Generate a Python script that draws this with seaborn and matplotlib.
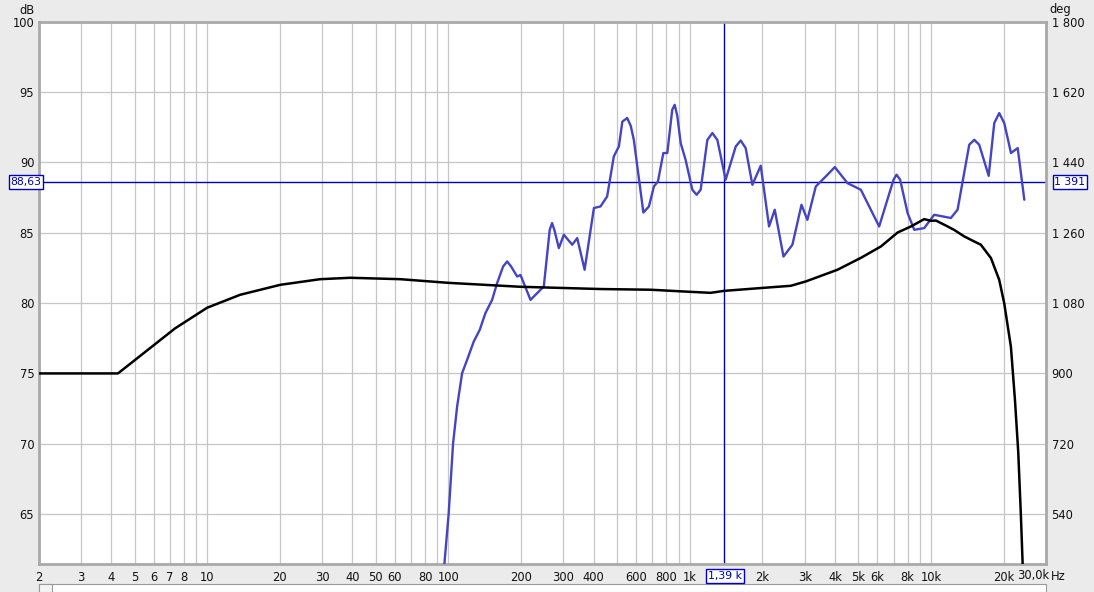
import numpy as np
import pandas as pd
import matplotlib
matplotlib.use("Agg")
import matplotlib.pyplot as plt
from matplotlib.patches import Rectangle
from matplotlib.ticker import FixedLocator, FixedFormatter
import seaborn as sns

# ---------------- data ----------------
black_freq = [2, 4.27, 5.8, 7.36, 10, 13.7, 20.1, 29.4, 39.2, 63.2, 100, 199, 427, 689,
              1009, 1222, 1390, 1972, 2626, 3030, 4100, 5130, 6210, 7280, 8270, 9380,
              10000, 10490, 11730, 12500, 13750, 15130, 16110, 17740, 19190, 20130,
              21460, 22310, 23020, 23620, 24000, 24300]
black_db = [75.0, 75.0, 76.8, 78.2, 79.67, 80.59, 81.3, 81.7, 81.8, 81.7, 81.44, 81.16,
            81.0, 80.95, 80.8, 80.73, 80.87, 81.07, 81.23, 81.54, 82.37, 83.22, 84.03,
            85.02, 85.45, 85.97, 85.85, 85.87, 85.45, 85.2, 84.74, 84.38, 84.15, 83.2,
            81.66, 80.0, 76.9, 73.1, 69.4, 64.8, 61.5, 58.0]

blue_freq = [95.0, 96.2, 100.3, 104.6, 108.7, 114.0, 119.6, 127.4, 134.9, 142.4, 151.8,
             159.2, 168.6, 175.2, 182, 192.8, 199, 219, 241, 248.6, 263, 269, 275, 287,
             301, 326, 342, 367, 401, 427, 455, 485, 509, 526, 551, 570, 587, 643, 678,
             711, 739, 778, 808, 847, 867, 889, 918, 962, 1026, 1069, 1111, 1184, 1242,
             1303, 1410, 1553, 1628, 1707, 1820, 1971, 2134, 2253, 2449, 2667, 2908,
             3077, 3333, 3665, 3997, 4510, 5125, 6104, 7000, 7207, 7457, 8007, 8531,
             9380, 10320, 12100, 12900, 14420, 15130, 15860, 17360, 18310, 19200,
             20140, 21480, 22900, 24390]
blue_db = [58.0, 61.4, 65.06, 70.04, 72.65, 75.02, 75.97, 77.27, 78.1, 79.29, 80.23,
           81.42, 82.6, 82.96, 82.6, 81.89, 82.0, 80.23, 80.95, 81.18, 85.2, 85.69, 85.2,
           83.91, 84.86, 84.15, 84.62, 82.37, 86.76, 86.87, 87.58, 90.43, 91.14, 92.9,
           93.16, 92.6, 91.61, 86.44, 86.87, 88.29, 88.65, 90.67, 90.67, 93.75, 94.1,
           93.3, 91.38, 90.19, 88.06, 87.7, 88.06, 91.6, 92.09, 91.6, 88.77, 91.14,
           91.56, 91.02, 88.41, 89.77, 85.45, 86.64, 83.31, 84.15, 86.99, 85.92, 88.29,
           89.0, 89.67, 88.53, 88.06, 85.45, 88.77, 89.13, 88.77, 86.4, 85.21, 85.33,
           86.28, 86.05, 86.64, 91.26, 91.61, 91.26, 89.05, 92.8, 93.51, 92.8, 90.67,
           91.02, 87.35]

db_ticks = [65, 70, 75, 80, 85, 90, 95, 100]
deg_ticks = [540, 720, 900, 1080, 1260, 1440, 1620, 1800]
deg_labels = ["540", "720", "900", "1 080", "1 260", "1 440", "1 620", "1 800"]
x_labels = {2: "2", 3: "3", 4: "4", 5: "5", 6: "6", 7: "7", 8: "8", 10: "10",
            20: "20", 30: "30", 40: "40", 50: "50", 60: "60", 80: "80", 100: "100",
            200: "200", 300: "300", 400: "400", 600: "600", 800: "800", 1000: "1k",
            2000: "2k", 3000: "3k", 4000: "4k", 5000: "5k", 6000: "6k", 8000: "8k",
            10000: "10k", 20000: "20k"}
cursor_freq = 1391
cursor_db = 88.63

# ---------------- figure ----------------
sns.set_style("white")
plt.rcParams["font.family"] = ["DejaVu Sans"]

W, H = 1094, 592
fig = plt.figure(figsize=(W / 100, H / 100), dpi=100, facecolor="#ebebeb")
L, R, T, B = 38.5, 1046, 21.8, 564
ax = fig.add_axes([L / W, 1 - B / H, (R - L) / W, (B - T) / H])
ax.set_facecolor("white")
ymin, ymax = 61.45, 100
ax.set_xscale("log")
ax.set_xlim(2, 30000)
ax.set_ylim(ymin, ymax)

grid_x = [m * d for d in [1, 10, 100, 1000, 10000] for m in range(1, 10) if 2 <= m * d <= 30000]
ax.xaxis.set_major_locator(FixedLocator(grid_x))
ax.xaxis.set_major_formatter(FixedFormatter([x_labels.get(g, "") for g in grid_x]))
ax.xaxis.set_minor_locator(FixedLocator([]))
ax.set_yticks(db_ticks)
ax.set_yticklabels([str(t) for t in db_ticks])
ax.grid(True, which="major", color="#c6c6c6", lw=0.9)
ax.tick_params(axis="both", length=0, labelsize=8.3, colors="#111111")
ax.tick_params(axis="x", pad=5)
ax.tick_params(axis="y", pad=3)
for s in ax.spines.values():
    s.set_color("#a9a9a9")
    s.set_linewidth(2)

# cursor
ax.axvline(cursor_freq, color="#0000b0", lw=1, zorder=2)
ax.axhline(cursor_db, color="#0000b0", lw=1, zorder=2)

blue_df = pd.DataFrame({"f": blue_freq, "db": blue_db})
black_df = pd.DataFrame({"f": black_freq, "db": black_db})
sns.lineplot(data=blue_df, x="f", y="db", ax=ax, color="#4444c4", lw=1.7,
             estimator=None, sort=False, zorder=3)
sns.lineplot(data=black_df, x="f", y="db", ax=ax, color="black", lw=1.8,
             estimator=None, sort=False, zorder=4)
ax.set_xlabel("")
ax.set_ylabel("")
ax.set_xlim(2, 30000)
ax.set_ylim(ymin, ymax)

ax2 = ax.twinx()
ax2.set_ylim(ymin * 36 - 1800, 1800)
ax2.set_yticks(deg_ticks)
ax2.set_yticklabels(deg_labels)
ax2.tick_params(axis="y", length=0, labelsize=8.3, pad=4, colors="#111111")
for s in ax2.spines.values():
    s.set_visible(False)

def fx(px):
    return px / W

def fy(py):
    return 1 - py / H

fig.text(fx(35), fy(10), "dB", ha="right", va="center", fontsize=8.3, color="#111111")
fig.text(fx(1049), fy(10), "deg", ha="left", va="center", fontsize=8.3, color="#111111")
fig.text(fx(1049), fy(576), "30,0k", ha="right", va="center", fontsize=8.3, color="#111111")
fig.text(fx(1051), fy(576), "Hz", ha="left", va="center", fontsize=8.3, color="#111111")

box = dict(boxstyle="square,pad=0.15", fc="white", ec="#0000c0", lw=1)
fig.text(fx(26), fy(182), "88,63", ha="center", va="center", fontsize=7.8,
         color="#0000a0", bbox=box)
fig.text(fx(1070), fy(182), "1 391", ha="center", va="center", fontsize=7.8,
         color="#0000a0", bbox=box)
fig.text(fx(725), fy(576), "1,39 k", ha="center", va="center", fontsize=7.8,
         color="#0000a0", bbox=box)

# scrollbar strip
fig.add_artist(Rectangle((fx(39), fy(592)), (1046 - 39) / W, 8 / H,
                         transform=fig.transFigure, fc="white", ec="#9a9a9a", lw=0.8))
fig.add_artist(Rectangle((fx(39), fy(592)), 13 / W, 8 / H,
                         transform=fig.transFigure, fc="#f4f4f4", ec="#9a9a9a", lw=0.8))

fig.savefig("out.png", dpi=100, facecolor=fig.get_facecolor())
